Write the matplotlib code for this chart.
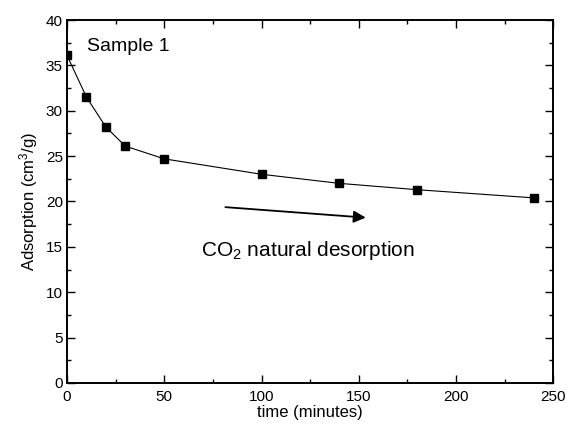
import matplotlib
matplotlib.use("Agg")
import matplotlib.pyplot as plt
from matplotlib.ticker import MultipleLocator

plt.rcParams['font.family'] = ['Liberation Sans', 'DejaVu Sans']
plt.rcParams['mathtext.fontset'] = 'custom'
plt.rcParams['mathtext.rm'] = 'Liberation Sans'
plt.rcParams['mathtext.it'] = 'Liberation Sans:italic'
plt.rcParams['mathtext.bf'] = 'Liberation Sans:bold'

time_min = [0, 10, 20, 30, 50, 100, 140, 180, 240]
adsorption = [36.1, 31.5, 28.2, 26.1, 24.7, 23.0, 22.0, 21.3, 20.4]
x_ticks = [0, 50, 100, 150, 200, 250]
y_ticks = [0, 5, 10, 15, 20, 25, 30, 35, 40]

fig = plt.figure(figsize=(5.68, 4.26), dpi=100)
ax = fig.add_axes([0.118, 0.101, 0.856, 0.852])

ax.plot(time_min, adsorption, color='black', linewidth=0.8, marker='s',
        markersize=5.6, markerfacecolor='black', markeredgecolor='black')

ax.set_xlim(0, 250)
ax.set_ylim(0, 40)
ax.set_xticks(x_ticks)
ax.set_yticks(y_ticks)
ax.xaxis.set_minor_locator(MultipleLocator(25))
ax.yaxis.set_minor_locator(MultipleLocator(2.5))
ax.tick_params(which='both', direction='in', top=True, right=True,
               labeltop=False, labelright=False, labelsize=11, width=1.0)
ax.tick_params(axis='y', which='both', pad=3)
ax.tick_params(axis='x', which='both', pad=5)
ax.tick_params(which='major', length=6)
ax.tick_params(which='minor', length=3)
for s in ax.spines.values():
    s.set_linewidth(1.4)

ax.set_xlabel('time (minutes)', fontsize=12, labelpad=0.5)
ax.set_ylabel('Adsorption (cm$\\mathregular{^3}$/g)', fontsize=12, labelpad=4)

ax.text(10.5, 37.1, 'Sample 1', fontsize=14, va='center', ha='left')
ax.annotate('', xy=(155, 18.2), xytext=(80, 19.4),
            arrowprops=dict(arrowstyle='-|>', color='black', lw=1.3,
                            mutation_scale=18))
ax.text(69, 14.6, 'CO$\\mathregular{_2}$ natural desorption', fontsize=15,
        va='center', ha='left')

fig.savefig('out.png', dpi=100)
